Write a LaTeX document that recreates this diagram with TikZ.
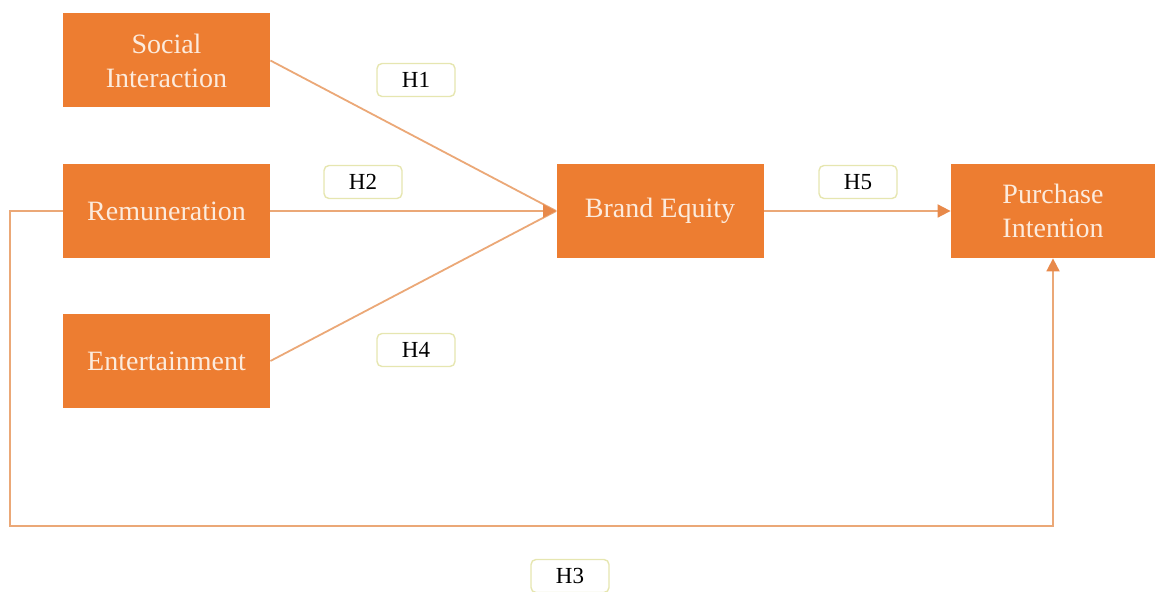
\documentclass[tikz,border=0pt]{standalone}
\usepackage{fontspec}
\setmainfont{Liberation Serif}
\usetikzlibrary{arrows.meta}
\definecolor{boxorange}{HTML}{ED7D31}
\definecolor{boxtext}{HTML}{FCEBDD}
\definecolor{linecol}{HTML}{EBA877}
\definecolor{tipcol}{HTML}{E8894A}
\definecolor{lblborder}{HTML}{E6E6B0}
\tikzset{
  varbox/.style={fill=boxorange, draw=none, text=boxtext, align=center,
    minimum width=103.5pt, minimum height=47pt, inner sep=0pt,
    font=\fontsize{14}{17}\selectfont},
  hlabel/.style={draw=lblborder, line width=0.7pt, rounded corners=2.5pt, fill=white,
    minimum width=39pt, minimum height=16.5pt, inner sep=0pt,
    font=\fontsize{11.5}{13}\selectfont, text=black},
  conn/.style={draw=linecol, line width=0.9pt},
  arr/.style={conn, -{Triangle[length=6.5pt, width=6.5pt, fill=tipcol, color=tipcol]}}
}
\begin{document}
\begin{tikzpicture}[x=0.5pt, y=-0.5pt]
\useasboundingbox (0,0) rectangle (1155,592);
% variable boxes
\node[varbox] (si) at (166.5,60.5) {Social\\Interaction};
\node[varbox] (rem) at (166.5,211) {Remuneration};
\node[varbox] (ent) at (166.5,361) {Entertainment};
\node[varbox] (be) at (660,211) {Brand Equity};
\node[varbox, minimum width=102pt] (pi) at (1053,211) {Purchase\\Intention};
% connectors
\draw[conn] (si.east) -- (be.west);
\draw[conn] (ent.east) -- (be.west);
\draw[arr] (rem.east) -- (be.west);
\draw[arr] (be.east) -- (pi.west);
\coordinate (c1) at (10,211);
\coordinate (c2) at (10,526);
\coordinate (c3) at (1053,526);
\draw[arr] (rem.west) -- (c1) -- (c2) -- (c3) -- (pi.south);
% labels
\node[hlabel] (h1) at (416,80) {H1};
\node[hlabel] (h2) at (363,182) {H2};
\node[hlabel] (h4) at (416,350) {H4};
\node[hlabel] (h5) at (858,182) {H5};
\node[hlabel] (h3) at (570,576) {H3};
\end{tikzpicture}
\end{document}
